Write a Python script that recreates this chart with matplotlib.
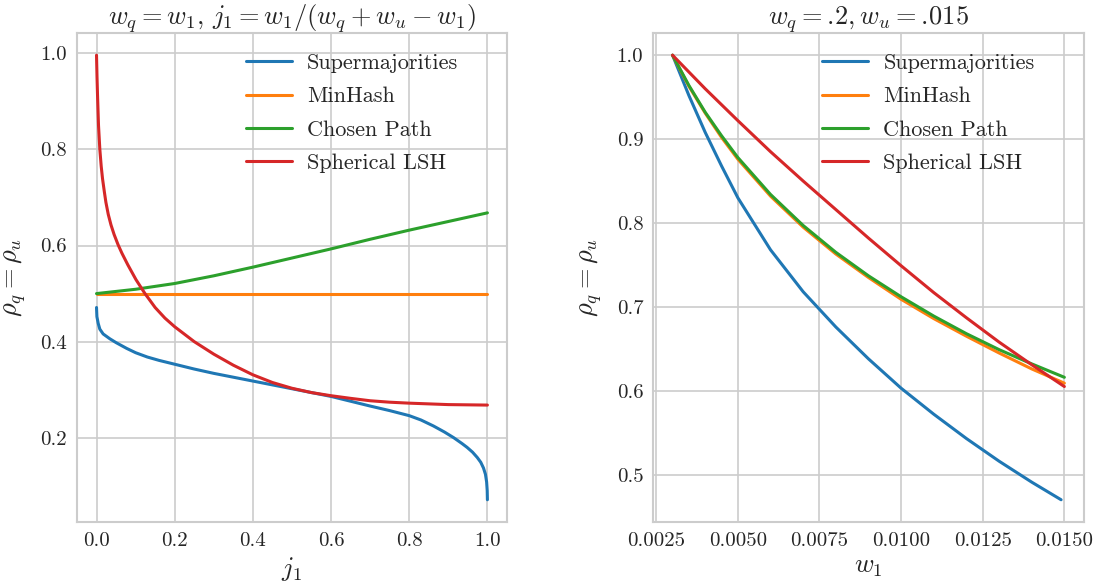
import numpy as np
import matplotlib
matplotlib.use("Agg")
import matplotlib.pyplot as plt
import seaborn as sns

# ---------------- data ----------------
# Left panel: x = j1
j_red = [0.0, 0.0013, 0.0026, 0.0051, 0.0085, 0.012, 0.0154, 0.02, 0.024, 0.03, 0.037,
         0.045, 0.055, 0.065, 0.08, 0.101, 0.124, 0.15, 0.175, 0.2, 0.25, 0.3, 0.35,
         0.4, 0.45, 0.5, 0.55, 0.6, 0.65, 0.7, 0.75, 0.8, 0.9, 1.0]
red_left = [0.996, 0.950, 0.9125, 0.85, 0.80, 0.765, 0.739, 0.712, 0.690, 0.665, 0.643,
            0.623, 0.602, 0.584, 0.560, 0.529, 0.50, 0.471, 0.449, 0.431, 0.400, 0.374,
            0.351, 0.331, 0.315, 0.303, 0.294, 0.2875, 0.282, 0.277, 0.274, 0.272,
            0.269, 0.268]

j_blue = [0.0, 0.001, 0.0043, 0.0085, 0.017, 0.034, 0.05, 0.077, 0.1, 0.13, 0.16, 0.2,
          0.25, 0.3, 0.35, 0.4, 0.45, 0.5, 0.55, 0.6, 0.65, 0.7, 0.75, 0.8, 0.83,
          0.862, 0.89, 0.914, 0.935, 0.948, 0.962, 0.974, 0.983, 0.99, 0.995, 0.998,
          0.9995, 1.0]
blue_left = [0.471, 0.452, 0.438, 0.426, 0.416, 0.406, 0.398, 0.386, 0.377, 0.368,
             0.361, 0.353, 0.343, 0.334, 0.326, 0.318, 0.310, 0.302, 0.294, 0.286,
             0.276, 0.266, 0.2565, 0.246, 0.237, 0.2245, 0.212, 0.200, 0.188, 0.180,
             0.170, 0.159, 0.149, 0.137, 0.124, 0.108, 0.090, 0.071]

j_lin = [0.0, 0.1, 0.2, 0.3, 0.4, 0.5, 0.6, 0.7, 0.8, 0.9, 1.0]
orange_left = [0.5, 0.5, 0.5, 0.5, 0.5, 0.5, 0.5, 0.5, 0.5, 0.5, 0.5]
green_left = [0.5, 0.509, 0.521, 0.537, 0.555, 0.574, 0.593, 0.613, 0.632, 0.650, 0.668]

# Right panel: x = w1
w1 = [0.003, 0.0035, 0.004, 0.0045, 0.005, 0.006, 0.007, 0.008, 0.009, 0.010,
      0.011, 0.012, 0.013, 0.014, 0.015]
w1_blue = [0.003, 0.0035, 0.004, 0.0045, 0.005, 0.006, 0.007, 0.008, 0.009, 0.010,
           0.011, 0.012, 0.013, 0.014, 0.0149]
blue_right = [1.0, 0.952, 0.908, 0.868, 0.830, 0.768, 0.718, 0.676, 0.638, 0.603,
              0.572, 0.543, 0.516, 0.491, 0.470]
orange_right = [1.0, 0.963, 0.931, 0.902, 0.876, 0.832, 0.795, 0.763, 0.735, 0.709,
                0.686, 0.665, 0.645, 0.626, 0.609]
green_right = [1.0, 0.964, 0.932, 0.904, 0.878, 0.834, 0.797, 0.765, 0.737, 0.712,
               0.689, 0.668, 0.649, 0.632, 0.616]
red_right = [1.0, 0.980, 0.960, 0.941, 0.922, 0.885, 0.850, 0.816, 0.782, 0.749,
             0.717, 0.687, 0.658, 0.631, 0.605]

labels = ["Supermajorities", "MinHash", "Chosen Path", "Spherical LSH"]
colors = ["#1f77b4", "#ff7f0e", "#2ca02c", "#d62728"]

left_xticks = [0.0, 0.2, 0.4, 0.6, 0.8, 1.0]
left_yticks = [0.2, 0.4, 0.6, 0.8, 1.0]
right_xticks = [0.0025, 0.005, 0.0075, 0.01, 0.0125, 0.015]
right_xticklabels = ["0.0025", "0.0050", "0.0075", "0.0100", "0.0125", "0.0150"]
right_yticks = [0.5, 0.6, 0.7, 0.8, 0.9, 1.0]

# ---------------- style ----------------
sns.set_style("whitegrid")
plt.rcParams["font.family"] = ["cmr10", "DejaVu Serif"]
plt.rcParams["mathtext.fontset"] = "cm"
plt.rcParams["axes.formatter.use_mathtext"] = True
plt.rcParams["axes.unicode_minus"] = False

fig = plt.figure(figsize=(10.98, 5.84), dpi=100)
ax1 = fig.add_axes([0.0701, 0.1062, 0.3916, 0.8373])
ax2 = fig.add_axes([0.5947, 0.1062, 0.3925, 0.8373])

lw = 2.2
ax1.plot(j_blue, blue_left, color=colors[0], lw=lw, label=labels[0])
ax1.plot(j_lin, orange_left, color=colors[1], lw=lw, label=labels[1])
ax1.plot(j_lin, green_left, color=colors[2], lw=lw, label=labels[2])
ax1.plot(j_red, red_left, color=colors[3], lw=lw, label=labels[3])

ax2.plot(w1_blue, blue_right, color=colors[0], lw=lw, label=labels[0])
ax2.plot(w1, orange_right, color=colors[1], lw=lw, label=labels[1])
ax2.plot(w1, green_right, color=colors[2], lw=lw, label=labels[2])
ax2.plot(w1, red_right, color=colors[3], lw=lw, label=labels[3])

ax1.set_xticks(left_xticks)
ax1.set_xticklabels([f"{v:.1f}" for v in left_xticks])
ax1.set_yticks(left_yticks)
ax1.set_yticklabels([f"{v:.1f}" for v in left_yticks])
ax2.set_xticks(right_xticks)
ax2.set_xticklabels(right_xticklabels)
ax2.set_yticks(right_yticks)
ax2.set_yticklabels([f"{v:.1f}" for v in right_yticks])

for ax in (ax1, ax2):
    ax.tick_params(labelsize=15, colors="0.15", length=0, pad=7)
    for s in ax.spines.values():
        s.set_color("0.8")
        s.set_linewidth(1.5)
    ax.grid(color="0.8", lw=1.2)
    ax.set_ylabel(r"$\rho_q = \rho_u$", fontsize=19, color="0.15", labelpad=9)
    ax.legend(loc="upper left", bbox_to_anchor=(0.393, 0.958), frameon=False,
              fontsize=16, handlelength=2.05, handletextpad=0.7,
              labelspacing=0.62, borderpad=0.0, borderaxespad=0.0)

ax1.set_xlabel(r"$j_1$", fontsize=19, color="0.15", labelpad=4)
ax2.set_xlabel(r"$w_1$", fontsize=19, color="0.15", labelpad=4)
ax1.set_title(r"$w_q = w_1,\, j_1 = w_1/(w_q + w_u - w_1)$", fontsize=19,
              color="0.15", pad=6)
ax2.set_title(r"$w_q = .\!2, w_u = .\!015$", fontsize=19, color="0.15", pad=6)

fig.savefig("out.png", dpi=100)
